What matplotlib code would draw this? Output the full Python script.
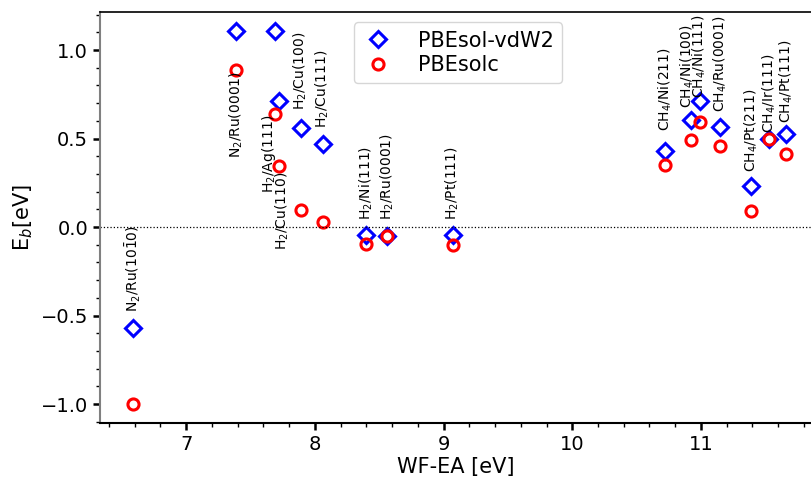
import matplotlib
matplotlib.use("Agg")
import matplotlib.pyplot as plt
from matplotlib.ticker import MultipleLocator

systems = ["N$_2$/Ru(10$\\bar{1}$0)", "N$_2$/Ru(0001)", "H$_2$/Ag(111)", "H$_2$/Cu(110)",
           "H$_2$/Cu(100)", "H$_2$/Cu(111)", "H$_2$/Ni(111)", "H$_2$/Ru(0001)", "H$_2$/Pt(111)",
           "CH$_4$/Ni(211)", "CH$_4$/Ni(100)", "CH$_4$/Ni(111)", "CH$_4$/Ru(0001)",
           "CH$_4$/Pt(211)", "CH$_4$/Ir(111)", "CH$_4$/Pt(111)"]
wf_ea = [6.59, 7.39, 7.69, 7.72, 7.89, 8.06, 8.40, 8.56, 9.07,
         10.72, 10.92, 10.99, 11.15, 11.39, 11.53, 11.66]
eb_vdw2 = [-0.57, 1.11, 1.11, 0.71, 0.56, 0.47, -0.045, -0.05, -0.045,
           0.43, 0.605, 0.71, 0.565, 0.23, 0.50, 0.525]
eb_solc = [-1.00, 0.89, 0.64, 0.345, 0.095, 0.028, -0.096, -0.05, -0.10,
           0.35, 0.49, 0.593, 0.458, 0.09, 0.497, 0.412]
# annotation anchor heights (bottom of rotated label) and small x shifts in pixels
label_y = [-0.48, 0.39, 0.19, -0.13, 0.66, 0.56, 0.04, 0.04, 0.04,
           0.54, 0.67, 0.73, 0.65, 0.31, 0.53, 0.59]
label_dx = [0, 0, -6, 3, 0, 0, 0, 0, 0, 0, -3, 0, 0, 0, 0, 0]

fig = plt.figure(figsize=(8.11, 4.8), dpi=100)
ax = fig.add_axes([100/811, 57/480, 711/811, 411/480])

ax.plot(wf_ea, eb_vdw2, linestyle="none", marker="D", markersize=8.5,
        markerfacecolor="none", markeredgecolor="blue", markeredgewidth=2.2,
        label="PBEsol-vdW2")
ax.plot(wf_ea, eb_solc, linestyle="none", marker="o", markersize=8,
        markerfacecolor="none", markeredgecolor="red", markeredgewidth=2.2,
        label="PBEsolc")
ax.axhline(0, color="black", linestyle=":", linewidth=0.9)

for name, x, y, dx in zip(systems, wf_ea, label_y, label_dx):
    ax.annotate(name, xy=(x, y), xytext=(dx * 0.72, 0), textcoords="offset points",
                rotation=90, ha="center", va="bottom", fontsize=10)

ax.set_xlim(6.33, 11.855)
ax.set_ylim(-1.107, 1.215)
ax.xaxis.set_major_locator(MultipleLocator(1))
ax.xaxis.set_minor_locator(MultipleLocator(0.2))
ax.yaxis.set_major_locator(MultipleLocator(0.5))
ax.yaxis.set_minor_locator(MultipleLocator(0.1))
ax.tick_params(which="major", length=5, width=1.8, labelsize=14)
ax.tick_params(which="minor", length=3, width=1.0)
ax.spines["right"].set_visible(False)
ax.spines["left"].set_color("gray")
ax.spines["left"].set_linewidth(1.5)
ax.spines["bottom"].set_linewidth(1.5)
ax.spines["top"].set_linewidth(1.2)

ax.set_xlabel("WF-EA [eV]", fontsize=15, labelpad=2)
ax.set_ylabel("E$_b$[eV]", fontsize=15, labelpad=4)

ax.legend(loc="upper left", bbox_to_anchor=(0.342, 1.0), fontsize=15,
          handlelength=1.5, borderpad=0.4, labelspacing=0.2, handletextpad=1.2)

fig.savefig("out.png", dpi=100)
